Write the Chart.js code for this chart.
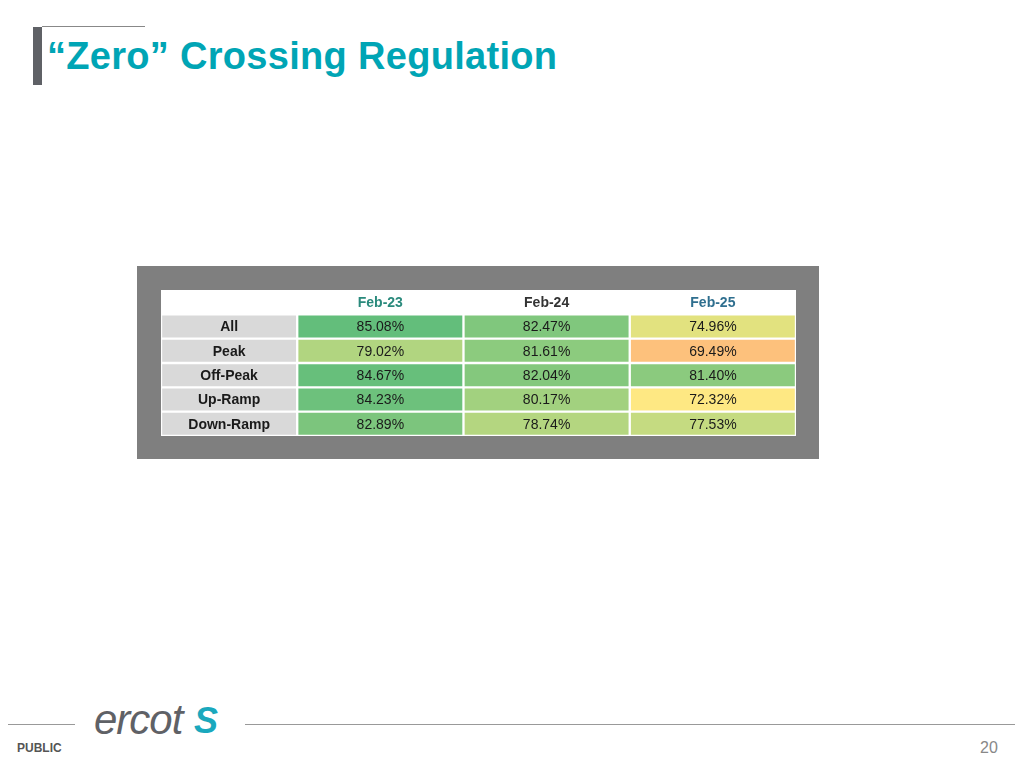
<!DOCTYPE html>
<html>
<head>
<meta charset="UTF-8">
<title>Zero Crossing Regulation</title>
<script src="https://cdn.jsdelivr.net/npm/chart.js@4.4.0/dist/chart.umd.min.js"></script>
<style>
  body { margin:0; width:1024px; height:768px; background:#fff; font-family:"Liberation Sans", Arial, sans-serif; position:relative; overflow:hidden; }
  #bar { position:absolute; left:33px; top:27px; width:9px; height:58px; background:#5f6166; }
  #topline { position:absolute; left:42px; top:26px; width:103px; height:1px; background:#888; }
  h1 { position:absolute; left:47px; top:35px; margin:0; font-size:38px; font-weight:bold; color:#00a5b5; letter-spacing:0.3px; }
  #frame { position:absolute; left:137px; top:266px; width:682px; height:193px; background:#7f7f7f; }
  #holder { position:absolute; left:161px; top:290px; width:635px; height:146px; background:#fff; }
  .fl { position:absolute; top:724px; height:1px; background:#999; }
  #pub { position:absolute; left:17px; top:741px; font-size:12px; font-weight:bold; color:#555; }
  #logo { position:absolute; left:94px; top:696px; font-size:42px; font-style:italic; color:#5f6166; letter-spacing:-1px; }
  #zz { position:absolute; left:194px; top:700px; font-size:36px; font-weight:bold; font-style:italic; color:#1aa8bd; }
  #pg { position:absolute; left:980px; top:739px; font-size:16px; color:#888; }
</style>
</head>
<body>
<div id="topline"></div><div id="bar"></div>
<h1>“Zero” Crossing Regulation</h1>
<div id="frame"></div>
<div id="holder"><canvas id="canvas"></canvas></div>
<div class="fl" style="left:8px;width:67px"></div>
<div class="fl" style="left:245px;width:770px"></div>
<div id="pub">PUBLIC</div>
<div id="logo">ercot</div><div id="zz">S</div>
<div id="pg">20</div>
<script>
var rows = ['All', 'Peak', 'Off-Peak', 'Up-Ramp', 'Down-Ramp'];
var months = ['Feb-23', 'Feb-24', 'Feb-25'];
var feb23 = [85.08, 79.02, 84.67, 84.23, 82.89];
var feb24 = [82.47, 81.61, 82.04, 80.17, 78.74];
var feb25 = [74.96, 69.49, 81.40, 72.32, 77.53];
var colors23 = ['#63be7b', '#b1d580', '#67bf7b', '#6dc17c', '#7cc57d'];
var colors24 = ['#80c77d', '#8ccb7e', '#84c87d', '#a2d17f', '#b4d680'];
var colors25 = ['#e2e27f', '#fdc17c', '#8bca7e', '#fee883', '#c5db81'];
var headColors = ['#2a8a7c', '#333333', '#2f6f8f'];

// layout: widths of label column and value columns (chart units)
var labelW = 136, colW = 166;
var labels = [''].concat(rows);
var values = [feb23, feb24, feb25];
var cellColors = [colors23, colors24, colors25];

var datasets = [{
  label: 'row',
  data: labels.map(function(){ return labelW; }),
  backgroundColor: labels.map(function(l, i){ return i == 0 ? '#ffffff' : '#d9d9d9'; }),
  borderColor: '#ffffff', borderWidth: 1.5, borderSkipped: false,
  texts: labels, textColors: labels.map(function(){ return '#1a1a1a'; })
}];
months.forEach(function(m, j) {
  datasets.push({
    label: m,
    data: labels.map(function(){ return colW; }),
    backgroundColor: ['#ffffff'].concat(cellColors[j]),
    borderColor: '#ffffff', borderWidth: 1.5, borderSkipped: false,
    texts: [m].concat(values[j].map(function(v){ return v.toFixed(2) + '%'; })),
    textColors: [headColors[j]].concat(values[j].map(function(){ return '#1a1a1a'; }))
  });
});

var cellText = {
  id: 'cellText',
  afterDatasetsDraw: function(chart) {
    var ctx = chart.ctx;
    ctx.save();
    ctx.textAlign = 'center';
    ctx.textBaseline = 'middle';
    chart.data.datasets.forEach(function(ds, di) {
      chart.getDatasetMeta(di).data.forEach(function(el, i) {
        var bold = di == 0 || i == 0;
        ctx.font = (bold ? 'bold ' : '') + '14px "Liberation Sans Narrow", "Arial Narrow", sans-serif';
        ctx.fillStyle = ds.textColors[i];
        ctx.fillText(ds.texts[i], (el.x + el.base) / 2, el.y + 1);
      });
    });
    ctx.restore();
  }
};

new Chart(document.getElementById('canvas'), {
  type: 'bar',
  data: { labels: labels, datasets: datasets },
  plugins: [cellText],
  options: {
    indexAxis: 'y',
    responsive: true, maintainAspectRatio: false, animation: false,
    barPercentage: 1, categoryPercentage: 1,
    layout: { padding: 0 },
    plugins: { legend: { display: false }, tooltip: { enabled: false } },
    scales: {
      x: { stacked: true, display: false, min: 0, max: labelW + 3 * colW },
      y: { stacked: true, display: false }
    }
  }
});
</script>
</body>
</html>
